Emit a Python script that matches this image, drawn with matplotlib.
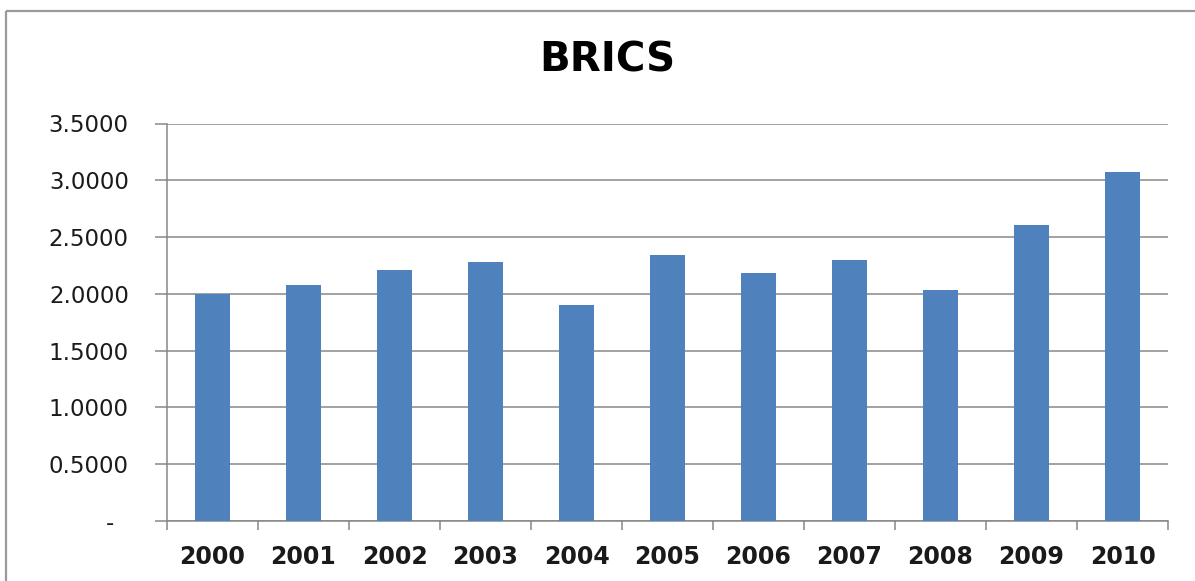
import matplotlib
matplotlib.use("Agg")
import matplotlib.pyplot as plt
from matplotlib.lines import Line2D
import numpy as np

# Chart data
years = ["2000", "2001", "2002", "2003", "2004", "2005",
         "2006", "2007", "2008", "2009", "2010"]
values = [2.00, 2.08, 2.21, 2.28, 1.90, 2.34, 2.18, 2.30, 2.03, 2.61, 3.07]
y_ticks = [0.0, 0.5, 1.0, 1.5, 2.0, 2.5, 3.0, 3.5]
title = "BRICS"

W, H = 1195, 581
fig = plt.figure(figsize=(W / 100, H / 100), dpi=100, frameon=False)

# White background drawn as an artist so no figure edge is drawn
fig.add_artist(plt.Rectangle((0, 0), 1, 1, transform=fig.transFigure,
                             facecolor="white", edgecolor="none", zorder=-10))

# Chart-area frame: only the top and left edges fall inside the image
frame_kw = dict(transform=fig.transFigure, color="#9a9a9a", linewidth=1.6,
                solid_capstyle="butt")
fig.add_artist(Line2D([6 / W, 1.05], [1 - 11 / H, 1 - 11 / H], **frame_kw))
fig.add_artist(Line2D([6 / W, 6 / W], [-0.05, 1 - 11 / H], **frame_kw))

left, right = 167 / W, 1168 / W
bottom, top = 1 - 521 / H, 1 - 123.5 / H
ax = fig.add_axes([left, bottom, right - left, top - bottom])
ax.patch.set_alpha(0)

grid_color = "#878787"
x = np.arange(len(years))
ax.bar(x, values, width=0.39, color="#4F81BD", zorder=3)

ax.set_xlim(-0.5, len(years) - 0.5)
ax.set_ylim(0, 3.5)

# Horizontal gridlines
ax.set_yticks(y_ticks)
ax.set_yticklabels(["-  " if v == 0 else f"{v:.4f}" for v in y_ticks])
ax.yaxis.grid(True, color=grid_color, linewidth=1.1, zorder=1)
ax.set_axisbelow(True)

# Category labels in the middle, tick marks at category boundaries
ax.set_xticks(x)
ax.set_xticklabels(years)
ax.set_xticks(np.arange(-0.5, len(years)), minor=True)
ax.tick_params(axis="x", which="major", length=0, pad=17,
               labelsize=17)
ax.tick_params(axis="x", which="minor", length=6.5, width=1.1,
               color=grid_color, direction="out")
ax.tick_params(axis="y", length=8.5, width=1.1, color=grid_color,
               direction="out", pad=19, labelsize=16.5)
for lab in ax.get_xticklabels():
    lab.set_fontweight("bold")
    lab.set_color("#1a1a1a")
for lab in ax.get_yticklabels():
    lab.set_color("#1a1a1a")

for side in ("top", "right"):
    ax.spines[side].set_visible(False)
for side in ("left", "bottom"):
    ax.spines[side].set_color(grid_color)
    ax.spines[side].set_linewidth(1.1)

fig.text(607 / W, 1 - 61 / H, title, ha="center", va="center",
         fontsize=29, fontweight="bold", color="black")

fig.savefig("out.png", dpi=100, facecolor="white")
